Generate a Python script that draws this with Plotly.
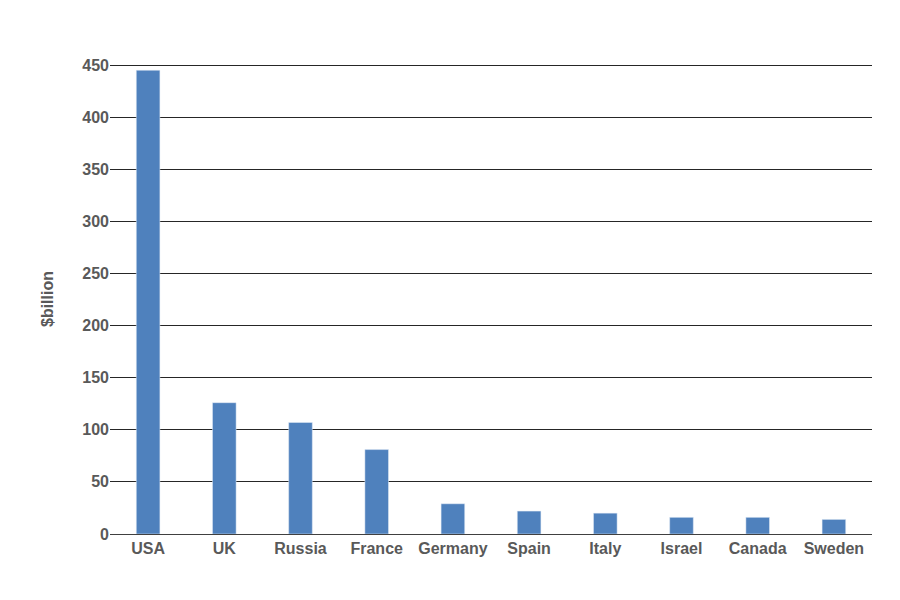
import plotly.graph_objects as go

countries = ["USA", "UK", "Russia", "France", "Germany", "Spain", "Italy", "Israel", "Canada", "Sweden"]
values = [445, 126, 107, 81, 29, 22, 20, 16, 16, 14]
y_ticks = [0, 50, 100, 150, 200, 250, 300, 350, 400, 450]

fig = go.Figure(go.Bar(x=countries, y=values, marker_color="#4f81bd", width=0.31))

font = dict(family="Liberation Sans Narrow, Liberation Sans, Arial", size=16, color="#595959")
fig.update_layout(
    width=900, height=600,
    margin=dict(l=102, r=36, t=56, b=74),
    plot_bgcolor="white", paper_bgcolor="white",
    showlegend=False,
    font=font,
)
fig.update_xaxes(showgrid=False, showline=True, linecolor="#404040", linewidth=1,
                 tickfont=dict(size=16, color="#595959", weight="bold"), ticks="")
fig.update_yaxes(range=[0, 451], tickvals=y_ticks, showgrid=True, gridcolor="#262626",
                 gridwidth=1, zeroline=False, ticks="",
                 tickfont=dict(size=16, color="#595959", weight="bold"),
                 title=dict(text="$billion", font=dict(size=16, color="#595959", weight="bold"),
                            standoff=24))
fig.write_html("out.html")
